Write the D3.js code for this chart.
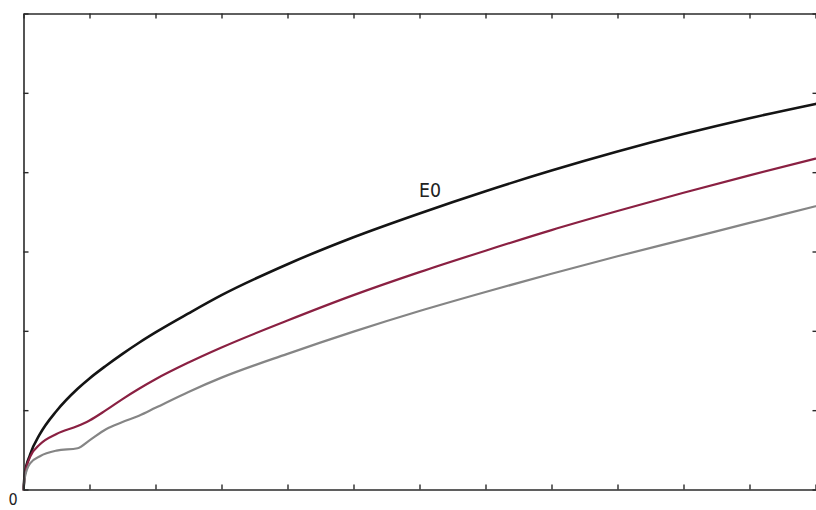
<!DOCTYPE html>
<html lang="en">
<head>
    <meta charset="utf-8">
    <title>E0 curves</title>
    <script src="https://d3js.org/d3.v7.min.js"></script>
    <style>
    body{
        margin: 0;
        background-color: #ffffff;
    }
    svg{
        width: 816px;
        height: 510px;
        display: block;
        background-color: #ffffff;
    }
    </style>
</head>
<body>
<script>
    // values (x in tick units, y in tick units)
    const xValues = [0, 0.02, 0.1, 0.25, 0.5, 0.82, 1, 1.25, 1.5, 1.75, 2, 2.5, 3, 4, 5, 6, 7, 8, 9, 10, 11, 12];
    const e0Values = [0, 0.2, 0.44, 0.7, 0.99, 1.27, 1.4, 1.56, 1.71, 1.85, 1.98, 2.22, 2.45, 2.84, 3.18, 3.48, 3.76, 4.02, 4.26, 4.48, 4.68, 4.86];
    const redValues = [0, 0.18, 0.41, 0.57, 0.7, 0.8, 0.87, 1.0, 1.14, 1.27, 1.39, 1.6, 1.79, 2.13, 2.45, 2.74, 3.01, 3.27, 3.51, 3.74, 3.96, 4.17];
    const grayValues = [0, 0.15, 0.33, 0.42, 0.49, 0.52, 0.62, 0.76, 0.85, 0.93, 1.03, 1.23, 1.41, 1.71, 1.99, 2.25, 2.49, 2.72, 2.94, 3.15, 3.36, 3.57];
    const xTicks = d3.range(0, 13, 1);
    const yTicks = d3.range(0, 7, 1);
    const curveLabel = "E0";
    const originLabel = "0";

    const width = 816, height = 510;
    const mLeft = 23.5, mRight = 815.5, mTop = 13.5, mBottom = 489.5;

    let svg = d3.select("body").append("svg")
        .attr("width", width)
        .attr("height", height);

    let xScale = d3.scaleLinear().domain([0, 12]).range([mLeft, mRight]);
    let yScale = d3.scaleLinear().domain([0, 6]).range([mBottom, mTop]);

    const series = [
        {values: e0Values, color: "#141414", width: 2.6},
        {values: redValues, color: "#8a2042", width: 2.2},
        {values: grayValues, color: "#858585", width: 2.2}
    ];

    series.forEach(s => {
        let line = d3.line()
            .x((d, i) => xScale(xValues[i]))
            .y(d => yScale(d))
            .curve(d3.curveMonotoneX);

        svg.append("path")
            .datum(s.values)
            .attr("d", line)
            .attr("fill", "none")
            .attr("stroke", s.color)
            .attr("stroke-width", s.width)
            .attr("stroke-linejoin", "round")
            .attr("stroke-linecap", "round");
    });

    // frame with inward ticks on all four sides
    const tickLen = 5;
    const xAxisBottom = d3.axisBottom(xScale).tickValues(xTicks).tickSize(-tickLen).tickSizeOuter(0).tickFormat("");
    const xAxisTop = d3.axisTop(xScale).tickValues(xTicks).tickSize(-tickLen).tickSizeOuter(0).tickFormat("");
    const yAxisLeft = d3.axisLeft(yScale).tickValues(yTicks).tickSize(-tickLen).tickSizeOuter(0).tickFormat("");
    const yAxisRight = d3.axisRight(yScale).tickValues(yTicks).tickSize(-tickLen).tickSizeOuter(0).tickFormat("");

    let axes = [
        svg.append("g").attr("transform", "translate(0," + mBottom + ")").call(xAxisBottom),
        svg.append("g").attr("transform", "translate(0," + mTop + ")").call(xAxisTop),
        svg.append("g").attr("transform", "translate(" + mLeft + ",0)").call(yAxisLeft),
        svg.append("g").attr("transform", "translate(" + (mRight + 2) + ",0)").call(yAxisRight)
    ];
    axes.forEach(g => {
        g.select(".domain").attr("stroke", "#2a2a2a").attr("stroke-width", 1.6);
        g.selectAll(".tick line").attr("stroke", "#2a2a2a").attr("stroke-width", 1.4);
    });

    svg.append("text")
        .attr("x", 419)
        .attr("y", 197)
        .attr("font-family", "'DejaVu Sans Condensed', 'Liberation Sans Narrow', sans-serif")
        .attr("font-size", 20)
        .attr("textLength", 22)
        .attr("lengthAdjust", "spacingAndGlyphs")
        .attr("fill", "#222")
        .text(curveLabel);

    svg.append("text")
        .attr("x", 13)
        .attr("y", 505)
        .attr("text-anchor", "middle")
        .attr("font-family", "'DejaVu Sans Condensed', 'Liberation Sans Narrow', sans-serif")
        .attr("font-size", 16)
        .attr("fill", "#222")
        .text(originLabel);
</script>
</body>
</html>
